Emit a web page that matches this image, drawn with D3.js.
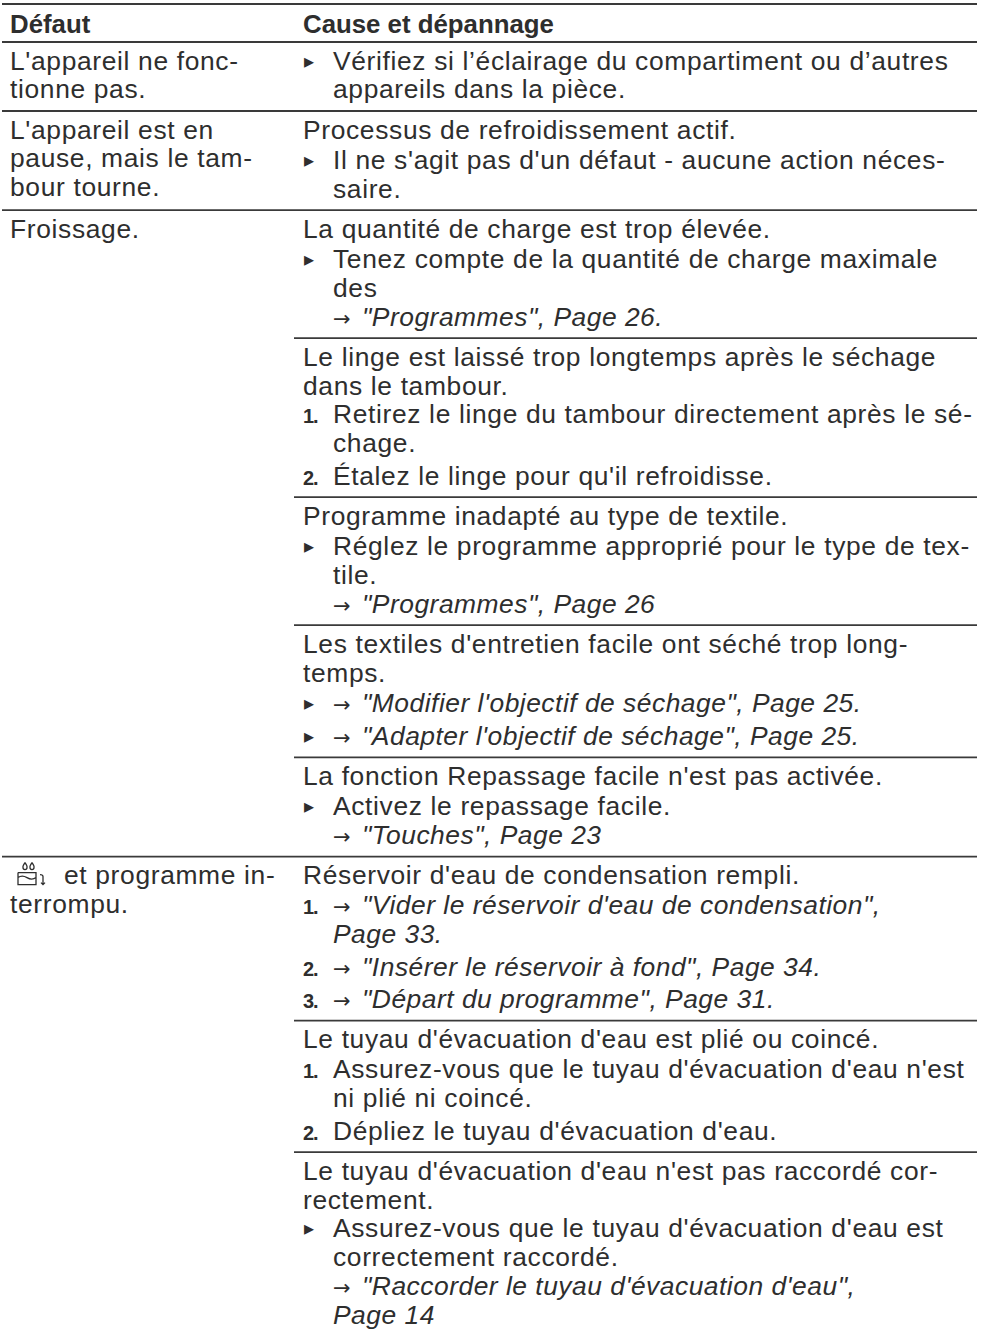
<!DOCTYPE html>
<html>
<head>
<meta charset="utf-8">
<script src="https://cdnjs.cloudflare.com/ajax/libs/d3/7.8.5/d3.min.js"></script>
<style>
html, body { margin: 0; background: #fff; }
text { font-family: "Liberation Sans", Arial, sans-serif; fill: #2e2e2e; }
</style>
</head>
<body>
<div id="table"></div>
<script>
// table content, line by line as it wraps in the picture
// t = plain, b = bullet, 1/2/3 = numbered step, c = continuation (indented), l = link, icon handled in first col
const headers = ["Défaut", "Cause et dépannage"];

const defauts = [
    ["L'appareil ne fonc-", "tionne pas."],
    ["L'appareil est en", "pause, mais le tam-", "bour tourne."],
    ["Froissage."],
    ["@ et programme in-", "terrompu."]
];

const row1 = [[
    ["b", "Vérifiez si l’éclairage du compartiment ou d’autres"],
    ["c", "appareils dans la pièce."]
]];
const row2 = [[
    ["t", "Processus de refroidissement actif."],
    ["b", "Il ne s'agit pas d'un défaut - aucune action néces-"],
    ["c", "saire."]
]];
const row3 = [[
    ["t", "La quantité de charge est trop élevée."],
    ["b", "Tenez compte de la quantité de charge maximale"],
    ["c", "des"],
    ["cl", "\"Programmes\", Page 26."]
], [
    ["t", "Le linge est laissé trop longtemps après le séchage"],
    ["c0", "dans le tambour."],
    ["1", "Retirez le linge du tambour directement après le sé-"],
    ["c", "chage."],
    ["2", "Étalez le linge pour qu'il refroidisse."]
], [
    ["t", "Programme inadapté au type de textile."],
    ["b", "Réglez le programme approprié pour le type de tex-"],
    ["c", "tile."],
    ["cl", "\"Programmes\", Page 26"]
], [
    ["t", "Les textiles d'entretien facile ont séché trop long-"],
    ["c0", "temps."],
    ["bl", "\"Modifier l'objectif de séchage\", Page 25."],
    ["bl", "\"Adapter l'objectif de séchage\", Page 25."]
], [
    ["t", "La fonction Repassage facile n'est pas activée."],
    ["b", "Activez le repassage facile."],
    ["cl", "\"Touches\", Page 23"]
]];
const row4 = [[
    ["t", "Réservoir d'eau de condensation rempli."],
    ["1l", "\"Vider le réservoir d'eau de condensation\","],
    ["ci", "Page 33."],
    ["2l", "\"Insérer le réservoir à fond\", Page 34."],
    ["3l", "\"Départ du programme\", Page 31."]
], [
    ["t", "Le tuyau d'évacuation d'eau est plié ou coincé."],
    ["1", "Assurez-vous que le tuyau d'évacuation d'eau n'est"],
    ["c", "ni plié ni coincé."],
    ["2", "Dépliez le tuyau d'évacuation d'eau."]
], [
    ["t", "Le tuyau d'évacuation d'eau n'est pas raccordé cor-"],
    ["c0", "rectement."],
    ["b", "Assurez-vous que le tuyau d'évacuation d'eau est"],
    ["c", "correctement raccordé."],
    ["cl", "\"Raccorder le tuyau d'évacuation d'eau\","],
    ["ci", "Page 14"]
]];
const causes = [row1, row2, row3, row4];

const width = 981, height = 1329;
const lineH = 28.8, firstBase = 27.5, pad = 12.7, fs = 26.4, spacing = 0.65, italicSpacing = 0.5;
const colA = 10, colB = 303, indent = 333, ruleBreak = 294, ruleEnd = 977;

const svg = d3.select("#table").append("svg")
    .attr("width", width)
    .attr("height", height)
    .style("display", "block");

function rule(x1, y) {
    svg.append("line")
        .attr("x1", x1).attr("x2", ruleEnd)
        .attr("y1", y).attr("y2", y)
        .attr("stroke", "#3a3a3a")
        .attr("stroke-width", 1.8);
}

function line(x, y, txt, opts) {
    return svg.append("text")
        .attr("x", x).attr("y", y)
        .style("font-size", fs + "px")
        .style("letter-spacing", (opts && opts.italic ? italicSpacing : spacing) + "px")
        .style("font-style", opts && opts.italic ? "italic" : "normal")
        .text(txt);
}

// arrow + italic link text
function link(x, y, txt) {
    const t = svg.append("text").attr("x", x).attr("y", y).style("font-size", fs + "px");
    t.append("tspan").text("→").style("font-family", "DejaVu Sans").style("font-size", "21px");
    t.append("tspan").text(txt).attr("x", x + 29)
        .style("font-style", "italic")
        .style("letter-spacing", italicSpacing + "px");
}

function bullet(y) {
    svg.append("text").attr("x", 304).attr("y", y - 2)
        .style("font-family", "DejaVu Sans").style("font-size", "20px")
        .text("▸");
}

function stepNum(n, y) {
    svg.append("text").attr("x", colB).attr("y", y)
        .style("font-size", "20px")
        .style("font-weight", "bold")
        .style("letter-spacing", "-1px")
        .text(n + ".");
}

// tank icon of the last row, sketched with strokes
function tankIcon(x, y) {
    const g = svg.append("g").attr("transform", `translate(${x},${y})`)
        .attr("fill", "none").attr("stroke", "#2e2e2e").attr("stroke-width", 1.3);
    g.append("path").attr("d", "M1 11V23H19V11H1M1 16Q5 13 10 16T19 16");
    g.append("path").attr("d", "M8 1Q5.5 4.5 6 6A2 2 0 0 0 10 6Q10.5 4.5 8 1M15 1Q12.5 4.5 13 6A2 2 0 0 0 17 6Q17.5 4.5 15 1");
    g.append("path").attr("d", "M23 13Q26 13 26 15V23M24 21L26 23L28 21");
}

rule(2, 4);
headers.forEach((h, i) => {
    svg.append("text").attr("x", i ? colB : colA).attr("y", 33)
        .style("font-size", "25.8px").style("font-weight", "bold")
        .text(h);
});
let y = 42;

defauts.forEach((lines, i) => {
    rule(2, y);
    lines.forEach((txt, k) => {
        const by = y + firstBase + k * lineH;
        if (txt.startsWith("@")) {
            tankIcon(17, y + 5);
            line(64, by, txt.slice(2));
        } else {
            line(colA, by, txt);
        }
    });

    causes[i].forEach((block, j) => {
        if (j > 0) rule(ruleBreak, y);
        let cy = y + firstBase;
        let listStarted = false;
        block.forEach((item, k) => {
            const kind = item[0], txt = item[1];
            // small extra space ahead of list items
            if (k > 0 && kind[0] !== "c") {
                if (!listStarted) {
                    if (block[k - 1][0] !== "c0" || kind === "bl") cy += 1.4;
                } else {
                    cy += kind === "bl" ? 4.2 : 3.6;
                }
                listStarted = true;
            }
            if (kind === "t" || kind === "c0") line(colB, cy, txt);
            else if (kind === "b") { bullet(cy); line(indent, cy, txt); }
            else if (kind === "bl") { bullet(cy); link(indent, cy, txt); }
            else if (kind === "c") line(indent, cy, txt);
            else if (kind === "cl") link(indent, cy, txt);
            else if (kind === "ci") line(indent, cy, txt, { italic: true });
            else if (kind.endsWith("l")) { stepNum(kind[0], cy); link(indent, cy, txt); }
            else { stepNum(kind, cy); line(indent, cy, txt); }
            cy += lineH;
        });
        y = cy - lineH + pad;
    });
});
</script>
</body>
</html>
